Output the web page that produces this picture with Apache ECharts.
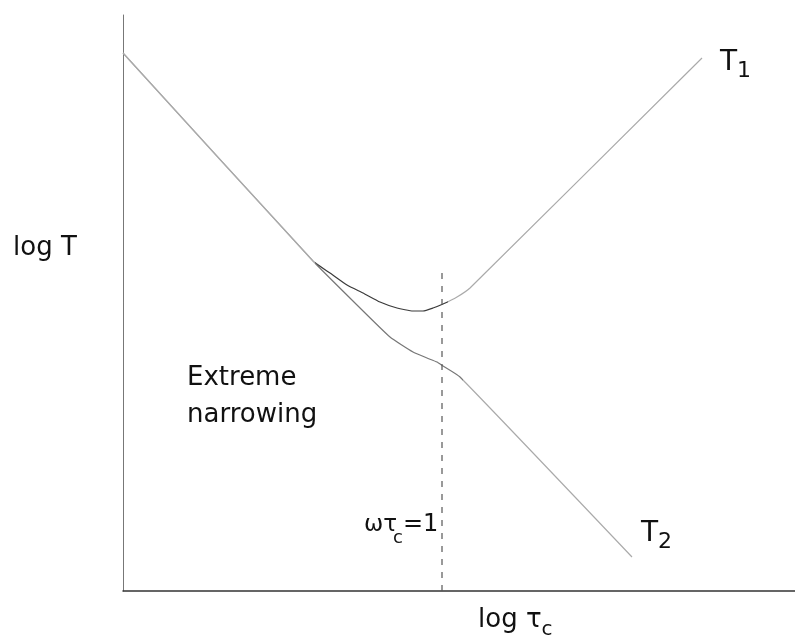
<!DOCTYPE html>
<html>
<head>
<meta charset="utf-8">
<script src="https://cdn.jsdelivr.net/npm/echarts@6/dist/echarts.min.js"></script>
<style>
  html, body { margin: 0; padding: 0; background: #fff; }
  #chart { width: 795px; height: 638px; }
</style>
</head>
<body>
<div id="chart"></div>
<script>
// Relaxation times versus correlation time (schematic, arbitrary log units).
// x: log tau_c, y: log T
const logTauC_T1 = [0, 190, 207, 224, 240, 257, 274, 290, 300, 310, 320, 334, 347, 579];
const logT1      = [538, 330, 318, 306, 298, 289, 283, 280, 280, 283, 287, 294, 303, 533];

const logTauC_T2 = [0, 190, 234, 267, 290, 304, 314, 320, 337, 509];
const logT2      = [538, 330, 286, 254, 239, 233, 229, 225, 214, 34];

// omega * tau_c = 1 marker
const resonanceX = 319;
const resonanceTop = 321;

const axisRangeX = [0, 672];
const axisRangeY = [0, 576];

const pairs = (xs, ys) => xs.map((x, i) => [x, ys[i]]);

const FONT = '"DejaVu Sans", sans-serif';

function subLabel(main, sub, fm, fs, lineH) {
  return {
    text: '{m|' + main + '}{s|' + sub + '}',
    rich: {
      m: { fontFamily: FONT, fontSize: fm, lineHeight: lineH, verticalAlign: 'middle', fill: '#111' },
      s: { fontFamily: FONT, fontSize: fs, lineHeight: fs, verticalAlign: 'bottom', fill: '#111' }
    },
    verticalAlign: 'top',
    align: 'left'
  };
}

function plain(x, y, text, size) {
  return { type: 'text', x: x, y: y,
    style: { text: text, font: size + 'px ' + FONT, fill: '#111', verticalAlign: 'middle' } };
}

const chart = echarts.init(document.getElementById('chart'), null, { renderer: 'canvas' });

chart.setOption({
  backgroundColor: '#fff',
  animation: false,
  grid: { left: 123, right: 0, top: 15, bottom: 47 },
  xAxis: {
    type: 'value', min: axisRangeX[0], max: axisRangeX[1],
    axisLine: { show: true, lineStyle: { color: '#333', width: 1.5 } },
    axisTick: { show: false }, axisLabel: { show: false }, splitLine: { show: false }
  },
  yAxis: {
    type: 'value', min: axisRangeY[0], max: axisRangeY[1],
    axisLine: { show: true, lineStyle: { color: '#777', width: 1 } },
    axisTick: { show: false }, axisLabel: { show: false }, splitLine: { show: false }
  },
  visualMap: [
    {
      type: 'piecewise', show: false, seriesIndex: 0, dimension: 0,
      pieces: [
        { lt: 192, color: '#aaa' },
        { gte: 192, lte: 325, color: '#3a3a3a' },
        { gt: 325, color: '#aaa' }
      ]
    },
    {
      type: 'piecewise', show: false, seriesIndex: 1, dimension: 0,
      pieces: [
        { lt: 192, color: '#aaa' },
        { gte: 192, lte: 340, color: '#777' },
        { gt: 340, color: '#aaa' }
      ]
    }
  ],
  series: [
    {
      name: 'T1', type: 'line', data: pairs(logTauC_T1, logT1),
      showSymbol: false, smooth: 0.15, lineStyle: { width: 1.2 }
    },
    {
      name: 'T2', type: 'line', data: pairs(logTauC_T2, logT2),
      showSymbol: false, smooth: 0.15, lineStyle: { width: 1.2 }
    },
    {
      name: 'resonance', type: 'line',
      data: [[resonanceX, 0], [resonanceX, resonanceTop]],
      showSymbol: false,
      lineStyle: { color: '#555', width: 1.2, type: [6, 7] }
    }
  ],
  graphic: [
    plain(13, 248.5, 'log T', 26),
    plain(187, 378.5, 'Extreme', 26),
    plain(187, 415.5, 'narrowing', 26),
    plain(364, 524.7, 'ωτ', 23),
    plain(393, 538.5, 'c', 18),
    plain(403, 524.4, '=1', 24),
    { type: 'text', x: 720, y: 44, style: subLabel('T', '1', 28, 22, 38) },
    { type: 'text', x: 641, y: 515, style: subLabel('T', '2', 28, 22, 38) },
    { type: 'text', x: 478, y: 601.5, style: subLabel('log τ', 'c', 26, 20, 38) }
  ]
});
</script>
</body>
</html>
